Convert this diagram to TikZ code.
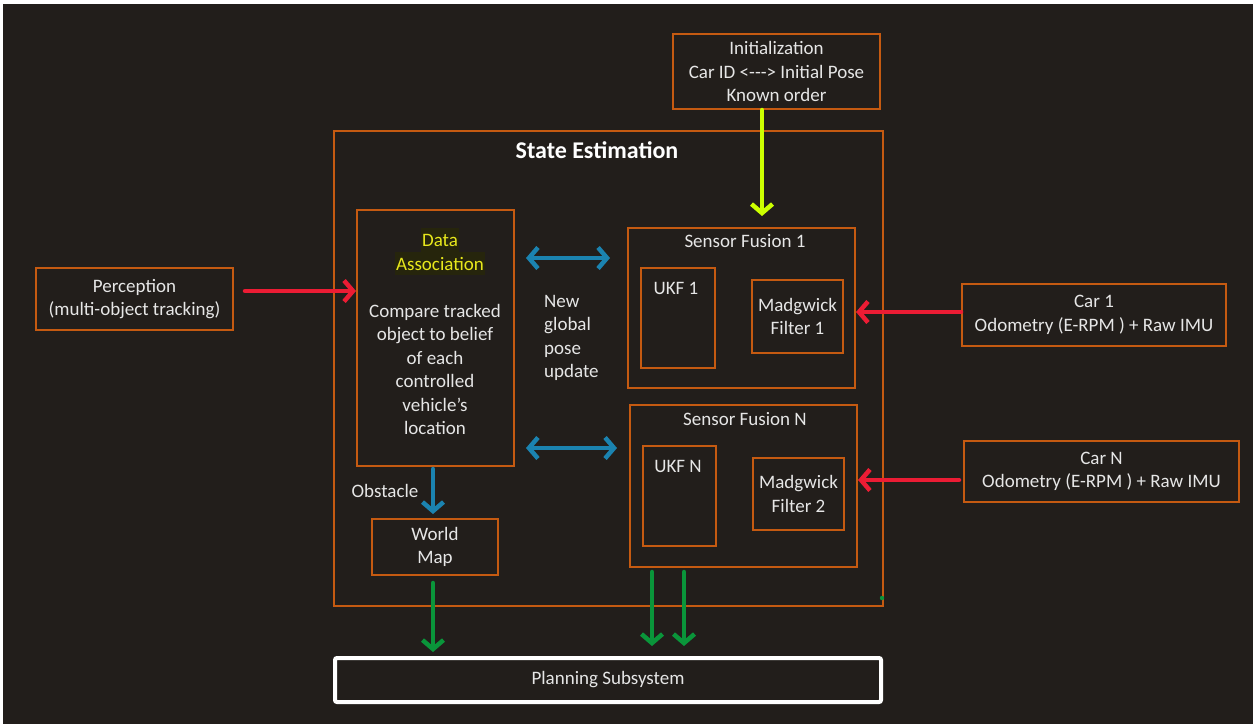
\documentclass[tikz,border=0pt]{standalone}
\usepackage{fontspec}
\setmainfont{Carlito}
\usetikzlibrary{arrows.meta}

\definecolor{bgdark}{HTML}{221E1B}
\definecolor{boxorange}{HTML}{C55A11}
\definecolor{txtgray}{HTML}{E6E6E6}
\definecolor{hlback}{HTML}{26250C}
\definecolor{hltext}{HTML}{E8E81C}
\definecolor{flowred}{HTML}{EC1C34}
\definecolor{flowblue}{HTML}{1B83B0}
\definecolor{flowgreen}{HTML}{0A953A}
\definecolor{flowlime}{HTML}{CCFF00}

\begin{document}
\begin{tikzpicture}[x=1pt, y=-1pt,
    box/.style={draw=boxorange, line width=2pt, inner sep=0pt},
    txt/.style={text=txtgray, align=center, inner sep=0pt,
        font=\fontsize{19}{23.5}\selectfont},
    hilite/.style={txt, fill=hlback, text=hltext, inner xsep=1.5pt,
        minimum height=23.5pt},
    flow/.style={line width=4.5pt, line cap=round,
        -{Straight Barb[length=9pt,width=21pt]}},
    twoway/.style={flow, {Straight Barb[length=9pt,width=21pt]}-{Straight Barb[length=9pt,width=21pt]}}]

    % Background
    \fill[white] (0,0) rectangle (1253,724);
    \fill[bgdark] (3,4) rectangle (1253,724);

    % State estimation frame
    \node[box, minimum width=549pt, minimum height=475pt] (stateest) at (608.5,368.5) {};
    \node[txt, text=white, font=\fontsize{24}{28}\selectfont\bfseries] (statetitle) at (597,150) {State Estimation};
    \fill[flowgreen] (882,598) circle (2.2pt);

    % Inputs
    \node[box, txt, minimum width=207pt, minimum height=75pt] (init) at (776.5,71.5)
        {Initialization\\Car ID <{-}{-}{-}> Initial Pose\\Known order};
    \node[box, txt, minimum width=197pt, minimum height=62pt] (percep) at (134.5,299)
        {Perception\\(multi-object tracking)};
    \node[box, txt, minimum width=264pt, minimum height=62pt] (car1) at (1094,315)
        {Car 1\\Odometry (E-RPM ) + Raw IMU};
    \node[box, txt, minimum width=275pt, minimum height=61pt] (carN) at (1101.5,471.5)
        {Car N\\Odometry (E-RPM ) + Raw IMU};

    % Data association
    \node[box, minimum width=157pt, minimum height=256pt] (assoc) at (435.5,338) {};
    \node[hilite] (assoctitlea) at (440,240) {Data};
    \node[hilite] (assoctitleb) at (440,263.5) {Association};
    \node[txt] (assocbody) at (435,369.5)
        {Compare tracked\\object to belief\\of each\\controlled\\vehicle's\\location};
    \node[txt, align=left, anchor=west] (poseupd) at (544,338) {New\\global\\pose\\update};

    % Sensor fusion 1
    \node[box, minimum width=227pt, minimum height=160pt] (sf1) at (741.5,308) {};
    \node[txt] (sf1title) at (745,241) {Sensor Fusion 1};
    \node[box, minimum width=74pt, minimum height=100pt] (ukf1) at (678,318) {};
    \node[txt] (ukf1title) at (676,288) {UKF 1};
    \node[box, txt, minimum width=91pt, minimum height=73pt] (madg1) at (797.5,316.5)
        {Madgwick\\Filter 1};

    % Sensor fusion N
    \node[box, minimum width=227pt, minimum height=162pt] (sfN) at (743.5,486) {};
    \node[txt] (sfNtitle) at (745,419) {Sensor Fusion N};
    \node[box, minimum width=73pt, minimum height=100pt] (ukfN) at (679.5,496) {};
    \node[txt] (ukfNtitle) at (678,466) {UKF N};
    \node[box, txt, minimum width=91pt, minimum height=72pt] (madg2) at (798.5,494)
        {Madgwick\\Filter 2};

    % World map and planning
    \node[box, txt, minimum width=126pt, minimum height=56pt] (wmap) at (435,547) {World\\Map};
    \node[txt] (obstlabel) at (385,491) {Obstacle};
    \node[draw=white, line width=4pt, rounded corners=2pt, txt, minimum width=546pt,
        minimum height=44pt] (plan) at (608,680) {Planning Subsystem};

    % Connectors
    \draw[flow, flowlime, shorten >=11pt] ([xshift=-14.5pt]init.south) -- ([xshift=-14.5pt]init.south |- sf1.north);
    \draw[flow, flowred, shorten <=11pt] ([yshift=8pt]percep.east) -- ([yshift=8pt]percep.east -| assoc.west);
    \draw[flow, flowred] ([yshift=3pt]car1.west) -- ([yshift=3pt]car1.west -| sf1.east);
    \draw[flow, flowred, shorten <=4pt] ([yshift=-8.5pt]carN.west) -- ([yshift=-8.5pt]carN.west -| sfN.east);
    \draw[twoway, flowblue, shorten <=11pt, shorten >=17pt] ([yshift=80pt]assoc.east) -- ([yshift=80pt]assoc.east -| sf1.west);
    \draw[twoway, flowblue, shorten <=11pt, shorten >=12pt] ([yshift=-110pt]assoc.east) -- ([yshift=-110pt]assoc.east -| sfN.west);
    \draw[flow, flowblue, shorten <=2pt, shorten >=4pt] ([xshift=-2.5pt]assoc.south) -- ([xshift=-2.5pt]assoc.south |- wmap.north);
    \draw[flow, flowgreen, shorten <=7pt, shorten >=4pt] ([xshift=-2pt]wmap.south) -- ([xshift=-2pt]wmap.south |- plan.north);
    \foreach \dx in {-91.5,-59.5}
        \draw[flow, flowgreen, shorten <=4pt, shorten >=10pt] ([xshift=\dx pt]sfN.south) -- ([xshift=\dx pt]sfN.south |- plan.north);
\end{tikzpicture}
\end{document}
